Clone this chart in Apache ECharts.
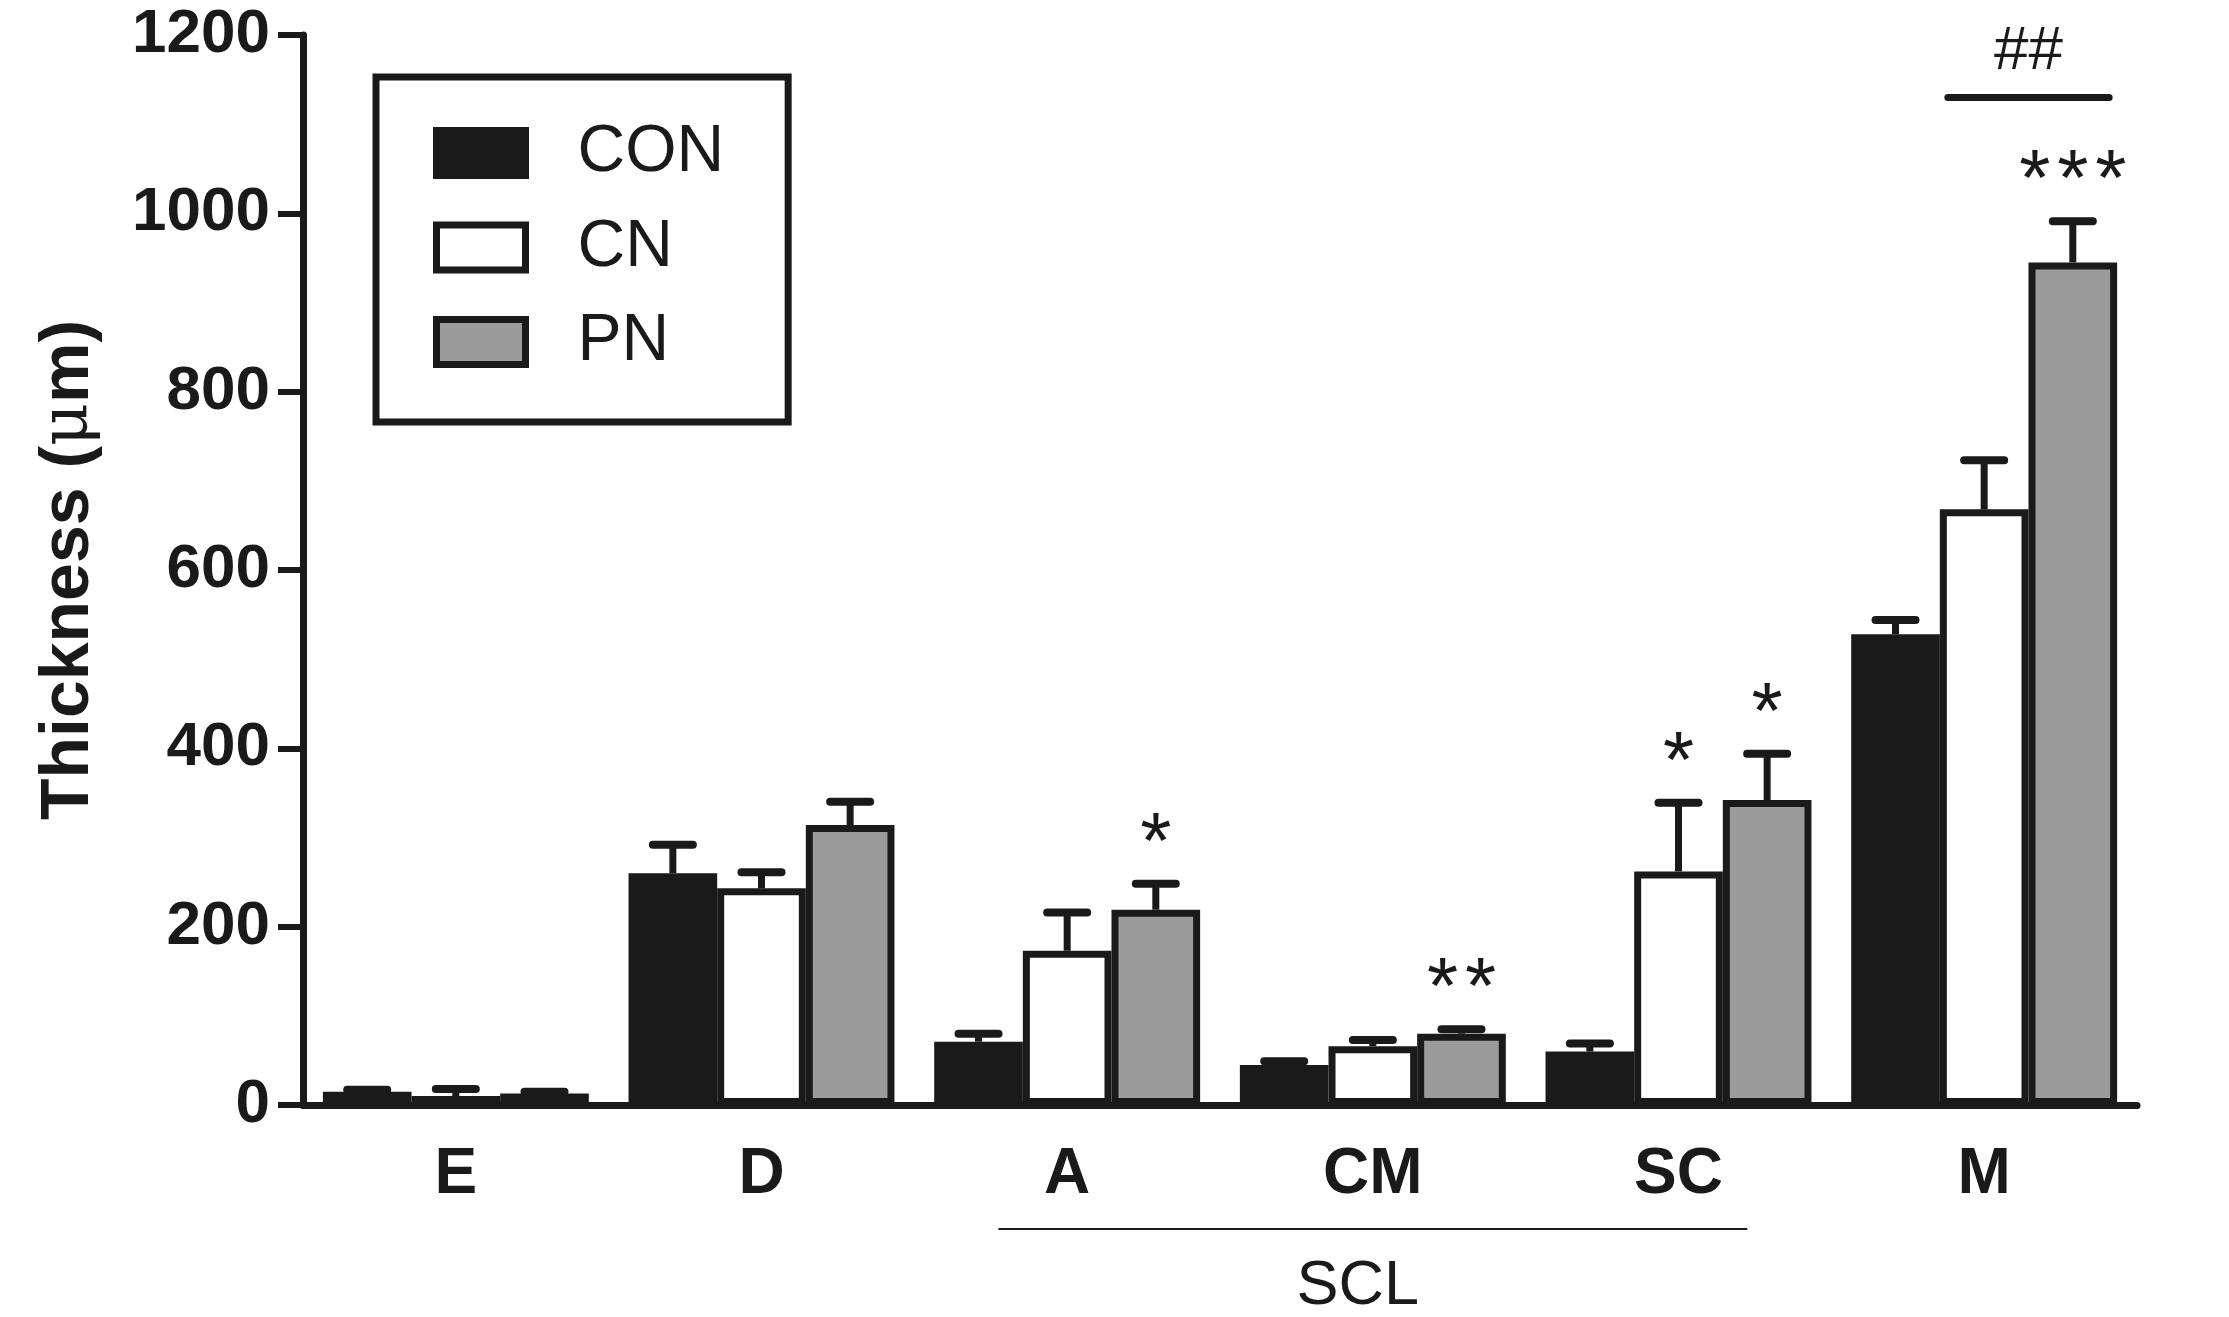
<!DOCTYPE html>
<html>
<head>
    <meta charset="UTF-8">
    <title>Thickness</title>
    <script src="https://cdn.jsdelivr.net/npm/echarts@6/dist/echarts.min.js"></script>
    <style>
        html, body {
            margin: 0;
            padding: 0;
            width: 100%;
            height: 100%;
            background: #ffffff;
        }
        #chart {
            width: 2229px;
            height: 1317px;
        }
    </style>
</head>
<body>
<div id="chart"></div>
<script>
    // categories and group names
    var categories = ['E', 'D', 'A', 'CM', 'SC', 'M'];
    var groups = ['CON', 'CN', 'PN'];

    // means and errors (SEM)
    var conMean = [15, 260, 71, 45, 60, 528];
    var conErr = [2, 32, 9, 4, 9, 16];
    var cnMean = [10, 243, 173, 66, 262, 668];
    var cnErr = [8, 18, 43, 7, 77, 55];
    var pnMean = [13, 314, 219, 80, 342, 945];
    var pnErr = [2, 26, 29, 5, 52, 46];

    // significance marks
    var conStars = ['', '', '', '', '', ''];
    var cnStars = ['', '', '', '', '*', ''];
    var pnStars = ['', '', '*', '**', '*', '***'];

    // ## bracket over M (CN vs PN) and SCL group under A..SC
    var hashLevel = 1130;
    var hashText = '##';
    var hashCategory = 5;
    var sclRange = [2, 4];
    var sclText = 'SCL';

    var yMin = 0, yMax = 1200, yStep = 200;

    var ink = '#1a1a1a';
    var fills = ['#1a1a1a', '#ffffff', '#9b9b9b'];
    var font = "'Liberation Sans', Arial, sans-serif";
    var gapRatio = 0.13;

    var means = [conMean, cnMean, pnMean];
    var errs = [conErr, cnErr, pnErr];
    var stars = [conStars, cnStars, pnStars];

    // rows for the error bar series
    var errRows = [];
    var errStars = [];
    for (var g = 0; g < 3; g++) {
        for (var i = 0; i < categories.length; i++) {
            errRows.push([i, g, means[g][i], errs[g][i]]);
            errStars.push(stars[g][i]);
        }
    }

    function barWidth(api) {
        return api.size([1, 0])[0] * (1 - gapRatio) / 3;
    }

    function renderErr(params, api) {
        var cat = api.value(0), g = api.value(1), m = api.value(2), e = api.value(3);
        var bw = barWidth(api);
        var cx = api.coord([cat, 0])[0] + (g - 1) * bw;
        var yTop = api.coord([cat, m])[1];
        var yCap = api.coord([cat, m + e])[1];
        var kids = [
            {type: 'line', shape: {x1: cx, y1: yTop, x2: cx, y2: yCap},
             style: {stroke: ink, lineWidth: 7}},
            {type: 'line', shape: {x1: cx - 20, y1: yCap, x2: cx + 20, y2: yCap},
             style: {stroke: ink, lineWidth: 8, lineCap: 'round'}}
        ];
        var s = errStars[params.dataIndex];
        var pitch = 38;
        for (var k = 0; k < s.length; k++) {
            kids.push({
                type: 'text',
                x: cx + (k - (s.length - 1) / 2) * pitch,
                y: yCap - 38,
                style: {text: '*', fontSize: 80, fontFamily: font, fill: ink,
                        align: 'center', verticalAlign: 'middle'}
            });
        }
        return {type: 'group', children: kids};
    }

    function renderHash(params, api) {
        var cat = api.value(0), lvl = api.value(1);
        var bw = barWidth(api);
        var cx = api.coord([cat, 0])[0];
        var y = api.coord([cat, lvl])[1];
        var x1 = cx - bw / 2 + 8, x2 = cx + 1.5 * bw - 8;
        return {type: 'group', children: [
            {type: 'line', shape: {x1: x1, y1: y, x2: x2, y2: y},
             style: {stroke: ink, lineWidth: 7, lineCap: 'round'}},
            {type: 'text', x: (x1 + x2) / 2, y: y - 46,
             style: {text: hashText, fontSize: 62, fontFamily: font, fill: ink,
                     align: 'center', verticalAlign: 'middle'}}
        ]};
    }

    function renderScl(params, api) {
        var a = api.value(0), b = api.value(1);
        var band = api.size([1, 0])[0];
        var x1 = api.coord([a, 0])[0] - 0.225 * band;
        var x2 = api.coord([b, 0])[0] + 0.225 * band;
        var y0 = api.coord([a, 0])[1];
        return {type: 'group', children: [
            {type: 'line', shape: {x1: x1, y1: y0 + 124, x2: x2, y2: y0 + 124},
             style: {stroke: ink, lineWidth: 2}},
            {type: 'text', x: (x1 + x2) / 2 - 15, y: y0 + 182,
             style: {text: sclText, fontSize: 63, fontFamily: font, fill: ink,
                     align: 'center', verticalAlign: 'middle'}}
        ]};
    }

    var chart = echarts.init(document.getElementById('chart'));

    var barSeries = groups.map(function (name, g) {
        return {
            name: name,
            type: 'bar',
            data: means[g],
            barGap: '0%',
            barCategoryGap: (gapRatio * 100) + '%',
            itemStyle: {color: fills[g], borderColor: ink, borderWidth: 7},
            emphasis: {disabled: true},
            z: 2
        };
    });

    var option = {
        animation: false,
        backgroundColor: '#ffffff',
        grid: {left: 303, right: 92, top: 35, bottom: 212},
        legend: {
            orient: 'vertical',
            left: 376,
            top: 77,
            data: groups,
            itemWidth: 89,
            itemHeight: 45,
            itemGap: 28.5,
            padding: [43, 64, 47, 57],
            borderColor: ink,
            borderWidth: 7,
            icon: 'rect',
            itemStyle: {borderColor: ink, borderWidth: 7},
            textStyle: {fontSize: 66, fontFamily: font, color: ink,
                        width: 130, padding: [0, 0, 0, 47]},
            selectedMode: false
        },
        xAxis: {
            type: 'category',
            data: categories,
            axisLine: {lineStyle: {color: ink, width: 7}},
            axisTick: {alignWithLabel: true, length: 28, lineStyle: {color: ink, width: 5}},
            axisLabel: {fontSize: 64, fontWeight: 'bold', fontFamily: font, color: ink, margin: 38}
        },
        yAxis: {
            type: 'value',
            min: yMin,
            max: yMax,
            interval: yStep,
            name: '{b|Thickness (}{m|μ}{b|m)}',
            nameLocation: 'middle',
            nameGap: 200,
            nameTextStyle: {
                rich: {
                    b: {fontSize: 68, fontWeight: 'bold', fontFamily: font, color: ink},
                    m: {fontSize: 66, fontWeight: 'normal', fontFamily: "'DejaVu Serif', serif", color: ink}
                }
            },
            axisLine: {show: true, lineStyle: {color: ink, width: 7}},
            axisTick: {show: true, length: 25, lineStyle: {color: ink, width: 6}},
            splitLine: {show: false},
            axisLabel: {
                fontSize: 62, fontWeight: 'bold', fontFamily: font, color: ink, margin: 33,
                formatter: function (v) { return String(v); }
            }
        },
        series: barSeries.concat([
            {
                type: 'custom',
                name: 'err',
                renderItem: renderErr,
                data: errRows,
                encode: {x: 0, y: 2},
                clip: false,
                silent: true,
                z: 3
            },
            {
                type: 'custom',
                name: 'hash',
                renderItem: renderHash,
                data: [[hashCategory, hashLevel]],
                encode: {x: 0, y: 1},
                clip: false,
                silent: true,
                z: 3
            },
            {
                type: 'custom',
                name: 'scl',
                renderItem: renderScl,
                data: [[sclRange[0], sclRange[1]]],
                encode: {x: 0},
                clip: false,
                silent: true,
                z: 3
            }
        ])
    };

    chart.setOption(option);
</script>
</body>
</html>
